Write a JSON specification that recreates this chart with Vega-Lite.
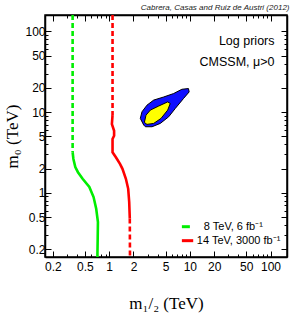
{
  "$schema": "https://vega.github.io/schema/vega-lite/v6.json",
  "width": 242,
  "height": 242,
  "autosize": "none",
  "padding": {"left": 45, "top": 15, "right": 4, "bottom": 56},
  "title": {"text": "Cabrera, Casas and Ruiz de Austri (2012)", "anchor": "end", "fontSize": 8, "fontStyle": "italic", "fontWeight": "normal", "font": "Liberation Sans", "color": "#222222", "offset": -2, "dx": 2},
  "config": {
    "view": {"stroke": "black", "strokeWidth": 1.5},
    "axis": {"grid": false, "labelFont": "Liberation Sans", "labelFontSize": 12, "labelColor": "black", "tickColor": "black", "domainColor": "black", "domainWidth": 1.5, "tickWidth": 1, "labelOverlap": false, "labelFlush": false, "titleFont": "Liberation Serif", "titleFontSize": 17, "titleFontWeight": "normal", "titleColor": "black"}
  },
  "data": {"values": [
    {"s": "gd", "x": 0.352, "y": 160, "o": 1},
    {"s": "gd", "x": 0.352, "y": 3.18, "o": 2},
    {"s": "gs", "x": 0.352, "y": 3.18, "o": 1},
    {"s": "gs", "x": 0.36, "y": 2.63, "o": 2},
    {"s": "gs", "x": 0.38, "y": 2.08, "o": 3},
    {"s": "gs", "x": 0.41, "y": 1.8, "o": 4},
    {"s": "gs", "x": 0.468, "y": 1.49, "o": 5},
    {"s": "gs", "x": 0.567, "y": 1.18, "o": 6},
    {"s": "gs", "x": 0.64, "y": 0.885, "o": 7},
    {"s": "gs", "x": 0.69, "y": 0.634, "o": 8},
    {"s": "gs", "x": 0.725, "y": 0.435, "o": 9},
    {"s": "gs", "x": 0.72, "y": 0.27, "o": 10},
    {"s": "gs", "x": 0.715, "y": 0.177, "o": 11},
    {"s": "gs", "x": 0.715, "y": 0.16, "o": 12},
    {"s": "rd1", "x": 1.1, "y": 160, "o": 1},
    {"s": "rd1", "x": 1.1, "y": 9.18, "o": 2},
    {"s": "rs", "x": 1.1, "y": 9.18, "o": 1},
    {"s": "rs", "x": 1.08, "y": 7.11, "o": 2},
    {"s": "rs", "x": 1.15, "y": 5.88, "o": 3},
    {"s": "rs", "x": 1.15, "y": 5.1, "o": 4},
    {"s": "rs", "x": 1.1, "y": 4.64, "o": 5},
    {"s": "rs", "x": 1.1, "y": 3.18, "o": 6},
    {"s": "rs", "x": 1.21, "y": 2.76, "o": 7},
    {"s": "rs", "x": 1.36, "y": 2.28, "o": 8},
    {"s": "rs", "x": 1.46, "y": 1.98, "o": 9},
    {"s": "rs", "x": 1.61, "y": 1.49, "o": 10},
    {"s": "rs", "x": 1.72, "y": 1.12, "o": 11},
    {"s": "rs", "x": 1.77, "y": 0.77, "o": 12},
    {"s": "rs", "x": 1.8, "y": 0.48, "o": 13},
    {"s": "rd2", "x": 1.8, "y": 0.48, "o": 1},
    {"s": "rd2", "x": 1.81, "y": 0.16, "o": 2},
    {"s": "blue", "x": 2.68, "y": 6.91, "o": 1},
    {"s": "blue", "x": 2.43, "y": 8.36, "o": 2},
    {"s": "blue", "x": 2.55, "y": 10.1, "o": 3},
    {"s": "blue", "x": 2.94, "y": 12.2, "o": 4},
    {"s": "blue", "x": 3.56, "y": 14.1, "o": 5},
    {"s": "blue", "x": 4.73, "y": 15.4, "o": 6},
    {"s": "blue", "x": 6.29, "y": 17.0, "o": 7},
    {"s": "blue", "x": 7.96, "y": 19.2, "o": 8},
    {"s": "blue", "x": 9.6, "y": 19.6, "o": 9},
    {"s": "blue", "x": 9.8, "y": 17.8, "o": 10},
    {"s": "blue", "x": 8.36, "y": 14.8, "o": 11},
    {"s": "blue", "x": 6.59, "y": 11.1, "o": 12},
    {"s": "blue", "x": 5.46, "y": 8.75, "o": 13},
    {"s": "blue", "x": 4.3, "y": 7.25, "o": 14},
    {"s": "blue", "x": 3.4, "y": 6.59, "o": 15},
    {"s": "blue", "x": 2.81, "y": 6.59, "o": 16},
    {"s": "blue", "x": 2.68, "y": 6.91, "o": 17},
    {"s": "yel", "x": 2.73, "y": 7.46, "o": 1},
    {"s": "yel", "x": 2.86, "y": 9.18, "o": 2},
    {"s": "yel", "x": 3.24, "y": 10.6, "o": 3},
    {"s": "yel", "x": 4.11, "y": 11.9, "o": 4},
    {"s": "yel", "x": 5.31, "y": 13.4, "o": 5},
    {"s": "yel", "x": 5.71, "y": 12.8, "o": 6},
    {"s": "yel", "x": 5.31, "y": 10.6, "o": 7},
    {"s": "yel", "x": 4.39, "y": 8.36, "o": 8},
    {"s": "yel", "x": 3.56, "y": 7.25, "o": 9},
    {"s": "yel", "x": 2.94, "y": 7.05, "o": 10},
    {"s": "yel", "x": 2.73, "y": 7.46, "o": 11},
    {"s": "lg", "x": 7.96, "x2": 10, "y": 0.38},
    {"s": "lr", "x": 7.96, "x2": 11.0, "y": 0.255},
    {"s": "tg", "x": 14.9, "y": 0.38, "t": "8 TeV, 6 fb⁻¹"},
    {"s": "tg", "x": 12.2, "y": 0.255, "t": "14 TeV, 3000 fb⁻¹"},
    {"s": "tr", "x": 112, "y": 75.3, "t": "Log priors"},
    {"s": "tr", "x": 112, "y": 41.4, "t": "CMSSM, μ>0"}
  ]},
  "resolve": {"axis": {"x": "independent", "y": "independent"}},
  "layer": [
    {
      "transform": [{"filter": "datum.s === 'gd'"}],
      "mark": {"type": "line", "color": "#00ee00", "strokeWidth": 2.6, "strokeDash": [5, 3]},
      "encoding": {
        "x": {"field": "x", "type": "quantitative", "scale": {"type": "log", "domain": [0.16, 160]},
          "axis": {"orient": "bottom", "values": [0.2,0.3,0.4,0.5,0.6,0.7,0.8,0.9,1,2,3,4,5,6,7,8,9,10,20,30,40,50,60,70,80,90,100],
            "format": "~g", "labelExpr": "indexof([0.2,0.5,1,2,5,10,20,50,100], datum.value) >= 0 ? datum.label : ''",
            "tickSize": {"condition": {"test": "indexof([0.2,0.5,1,2,5,10,20,50,100], datum.value) >= 0", "value": -6}, "value": -3},
            "labelPadding": 10, "title": "m₁/₂ (TeV)", "titlePadding": 20}},
        "y": {"field": "y", "type": "quantitative", "scale": {"type": "log", "domain": [0.16, 160]},
          "axis": {"orient": "left", "values": [0.2,0.3,0.4,0.5,0.6,0.7,0.8,0.9,1,2,3,4,5,6,7,8,9,10,20,30,40,50,60,70,80,90,100],
            "format": "~g", "labelExpr": "indexof([0.2,0.5,1,2,5,10,20,50,100], datum.value) >= 0 ? datum.label : ''",
            "tickSize": {"condition": {"test": "indexof([0.2,0.5,1,2,5,10,20,50,100], datum.value) >= 0", "value": -6}, "value": -3},
            "labelPadding": 6, "title": "m₀ (TeV)", "titlePadding": 3}},
        "order": {"field": "o", "type": "quantitative"}
      }
    },
    {
      "transform": [{"filter": "datum.s === 'gd'"}],
      "mark": {"type": "line", "opacity": 0},
      "encoding": {
        "x": {"field": "x", "type": "quantitative", "scale": {"type": "log", "domain": [0.16, 160]},
          "axis": {"orient": "top", "values": [0.2,0.3,0.4,0.5,0.6,0.7,0.8,0.9,1,2,3,4,5,6,7,8,9,10,20,30,40,50,60,70,80,90,100],
            "labels": false, "title": null,
            "tickSize": {"condition": {"test": "indexof([0.2,0.5,1,2,5,10,20,50,100], datum.value) >= 0", "value": -6}, "value": -3}}},
        "y": {"field": "y", "type": "quantitative", "scale": {"type": "log", "domain": [0.16, 160]},
          "axis": {"orient": "right", "values": [0.2,0.3,0.4,0.5,0.6,0.7,0.8,0.9,1,2,3,4,5,6,7,8,9,10,20,30,40,50,60,70,80,90,100],
            "labels": false, "title": null,
            "tickSize": {"condition": {"test": "indexof([0.2,0.5,1,2,5,10,20,50,100], datum.value) >= 0", "value": -6}, "value": -3}}},
        "order": {"field": "o", "type": "quantitative"}
      }
    },
    {
      "transform": [{"filter": "datum.s === 'gs'"}],
      "mark": {"type": "line", "color": "#00ee00", "strokeWidth": 2.6},
      "encoding": {
        "x": {"field": "x", "type": "quantitative", "scale": {"type": "log", "domain": [0.16, 160]}, "axis": null},
        "y": {"field": "y", "type": "quantitative", "scale": {"type": "log", "domain": [0.16, 160]}, "axis": null},
        "order": {"field": "o", "type": "quantitative"}
      }
    },
    {
      "transform": [{"filter": "datum.s === 'rd1' || datum.s === 'rd2'"}],
      "mark": {"type": "line", "color": "#ff0000", "strokeWidth": 2.6, "strokeDash": [5, 3]},
      "encoding": {
        "x": {"field": "x", "type": "quantitative", "scale": {"type": "log", "domain": [0.16, 160]}, "axis": null},
        "y": {"field": "y", "type": "quantitative", "scale": {"type": "log", "domain": [0.16, 160]}, "axis": null},
        "detail": {"field": "s"},
        "order": {"field": "o", "type": "quantitative"}
      }
    },
    {
      "transform": [{"filter": "datum.s === 'rs'"}],
      "mark": {"type": "line", "color": "#ff0000", "strokeWidth": 2.6},
      "encoding": {
        "x": {"field": "x", "type": "quantitative", "scale": {"type": "log", "domain": [0.16, 160]}, "axis": null},
        "y": {"field": "y", "type": "quantitative", "scale": {"type": "log", "domain": [0.16, 160]}, "axis": null},
        "order": {"field": "o", "type": "quantitative"}
      }
    },
    {
      "transform": [{"filter": "datum.s === 'blue'"}],
      "mark": {"type": "line", "fill": "#1010ff", "stroke": "black", "strokeWidth": 1},
      "encoding": {
        "x": {"field": "x", "type": "quantitative", "scale": {"type": "log", "domain": [0.16, 160]}, "axis": null},
        "y": {"field": "y", "type": "quantitative", "scale": {"type": "log", "domain": [0.16, 160]}, "axis": null},
        "order": {"field": "o", "type": "quantitative"}
      }
    },
    {
      "transform": [{"filter": "datum.s === 'yel'"}],
      "mark": {"type": "line", "fill": "#ffff00", "stroke": "black", "strokeWidth": 1},
      "encoding": {
        "x": {"field": "x", "type": "quantitative", "scale": {"type": "log", "domain": [0.16, 160]}, "axis": null},
        "y": {"field": "y", "type": "quantitative", "scale": {"type": "log", "domain": [0.16, 160]}, "axis": null},
        "order": {"field": "o", "type": "quantitative"}
      }
    },
    {
      "transform": [{"filter": "datum.s === 'lg' || datum.s === 'lr'"}],
      "mark": {"type": "rule", "strokeWidth": 3},
      "encoding": {
        "x": {"field": "x", "type": "quantitative", "scale": {"type": "log", "domain": [0.16, 160]}, "axis": null},
        "x2": {"field": "x2"},
        "y": {"field": "y", "type": "quantitative", "scale": {"type": "log", "domain": [0.16, 160]}, "axis": null},
        "color": {"field": "s", "type": "nominal", "scale": {"domain": ["lg", "lr"], "range": ["#00ee00", "#ff0000"]}, "legend": null}
      }
    },
    {
      "transform": [{"filter": "datum.s === 'tg'"}],
      "mark": {"type": "text", "align": "left", "baseline": "middle", "font": "Liberation Sans", "fontSize": 11, "color": "black"},
      "encoding": {
        "x": {"field": "x", "type": "quantitative", "scale": {"type": "log", "domain": [0.16, 160]}, "axis": null},
        "y": {"field": "y", "type": "quantitative", "scale": {"type": "log", "domain": [0.16, 160]}, "axis": null},
        "text": {"field": "t"}
      }
    },
    {
      "transform": [{"filter": "datum.s === 'tr'"}],
      "mark": {"type": "text", "align": "right", "baseline": "middle", "font": "Liberation Sans", "fontSize": 12.5, "color": "black"},
      "encoding": {
        "x": {"field": "x", "type": "quantitative", "scale": {"type": "log", "domain": [0.16, 160]}, "axis": null},
        "y": {"field": "y", "type": "quantitative", "scale": {"type": "log", "domain": [0.16, 160]}, "axis": null},
        "text": {"field": "t"}
      }
    }
  ]
}
